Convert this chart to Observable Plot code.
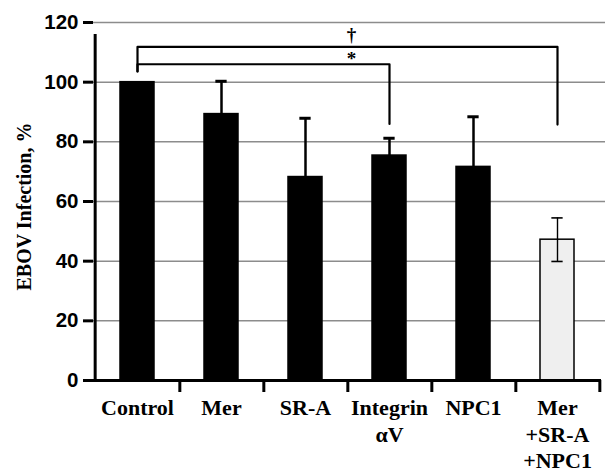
<!DOCTYPE html>
<html>
<head>
<meta charset="utf-8">
<script src="https://cdn.jsdelivr.net/npm/d3@7"></script>
<script src="https://cdn.jsdelivr.net/npm/@observablehq/plot@0.6"></script>
<style>
  html, body { margin: 0; padding: 0; background: #fff; }
</style>
</head>
<body>
<div id="chart"></div>
<script>
// ---- data ----
const categories = ["Control", "Mer", "SR-A", "Integrin αV", "NPC1", "Mer +SR-A +NPC1"];
const labels = ["Control", "Mer", "SR-A", "Integrin\nαV", "NPC1", "Mer\n+SR-A\n+NPC1"];
const values = [100, 89.3, 68.2, 75.4, 71.6, 47.2];
const errors = [0, 11, 19.7, 5.8, 16.8, 7.3];
const fills = ["black", "black", "black", "black", "black", "#efefef"];
const yTicks = [0, 20, 40, 60, 80, 100, 120];

// significance brackets
const bracketFrom = ["Control", "Control"];
const bracketTo = ["Mer +SR-A +NPC1", "Integrin αV"];
const bracketTop = [111.8, 106];
const bracketLeftEnd = [103.6, 103.6];
const bracketRightEnd = [85.8, 86];
const bracketSymbols = ["†", "*"];
const symbolY = [115.8, 107.8];

// ---- layout ----
const W = 605, H = 473;
const mL = 93, mR = 4, mT = 22, mB = 93;
const padInner = 0.59;
const step = (W - mL - mR) / categories.length;
const bw = step * (1 - padInner);
const capW = 12;

const table = categories.map((c, i) => ({cat: c, label: labels[i], value: values[i], err: errors[i], fill: fills[i]}));
const errTable = table.filter(d => d.err > 0);

const bracketLines = [];
bracketFrom.forEach((f, i) => {
  bracketLines.push(
    {k: i, cat: f, y: bracketLeftEnd[i]},
    {k: i, cat: f, y: bracketTop[i]},
    {k: i, cat: bracketTo[i], y: bracketTop[i]},
    {k: i, cat: bracketTo[i], y: bracketRightEnd[i]}
  );
});
const symbolTable = bracketSymbols.map((s, i) => ({s, y: symbolY[i], cat: "Integrin αV"}));

const serif = "'Liberation Serif', 'Times New Roman', Times, serif";
const sans = "'Liberation Sans', Arial, Helvetica, sans-serif";

const chart = Plot.plot({
  width: W,
  height: H,
  marginLeft: mL,
  marginRight: mR,
  marginTop: mT,
  marginBottom: mB,
  x: {domain: categories, paddingInner: padInner, paddingOuter: padInner / 2, axis: null},
  y: {domain: [0, 120], axis: null, label: null},
  style: {background: "white"},
  marks: [
    // gridlines
    Plot.ruleY(yTicks.filter(t => t > 0), {stroke: "#8c8c8c", strokeWidth: 1.5, insetRight: -4}),
    // bars
    Plot.barY(table, {x: "cat", y: "value", fill: "fill", stroke: "black", strokeWidth: 1.5}),
    // error bars
    Plot.ruleX(errTable, {x: "cat", y1: d => d.value - d.err, y2: d => d.value + d.err, stroke: "black",
      strokeWidth: d => d.fill === "black" ? 2.5 : 1.4}),
    Plot.tickY(errTable, {x: "cat", y: d => d.value + d.err, stroke: "black",
      strokeWidth: d => d.fill === "black" ? 3 : 1.6, insetLeft: (bw - capW) / 2, insetRight: (bw - capW) / 2}),
    Plot.tickY(errTable.filter(d => d.fill !== "black"), {x: "cat", y: d => d.value - d.err, stroke: "black",
      strokeWidth: 1.6, insetLeft: (bw - capW) / 2, insetRight: (bw - capW) / 2}),
    // brackets
    Plot.line(bracketLines, {x: "cat", y: "y", z: "k", stroke: "black", strokeWidth: 2.2, curve: "linear"}),
    Plot.text(symbolTable, {x: "cat", y: "y", text: "s", dx: -38, fontSize: 19, fontWeight: "bold",
      fontFamily: serif, fill: "black"}),
    // axes lines
    Plot.ruleY([0], {stroke: "black", strokeWidth: 3}),
    Plot.ruleX([categories[0]], {y1: 0, y2: 120, dx: -step / 2, insetBottom: -12, stroke: "black", strokeWidth: 3}),
    Plot.ruleX(categories, {y1: 0, y2: 0, dx: step / 2, insetBottom: -12, stroke: "black", strokeWidth: 3}),
    // y axis
    Plot.axisY({ticks: yTicks, tickSize: 10, tickPadding: 5, strokeWidth: 3, fontSize: 20.5, fontWeight: "bold",
      fontFamily: sans, label: null, tickFormat: d => d, fill: "black"}),
    // x labels
    Plot.text(table, {x: "cat", y: () => 0, text: "label", dy: 16, lineAnchor: "top", lineHeight: 1.2,
      fontSize: 22, fontWeight: "bold", fontFamily: serif, fill: "black"}),
    // y label
    Plot.text(["EBOV Infection, %"], {frameAnchor: "left", text: d => d, rotate: -90, dx: -69, dy: 5,
      textAnchor: "middle", fontSize: 20, fontWeight: "bold", fontFamily: serif, fill: "black"})
  ]
});
document.getElementById("chart").appendChild(chart);
</script>
</body>
</html>
